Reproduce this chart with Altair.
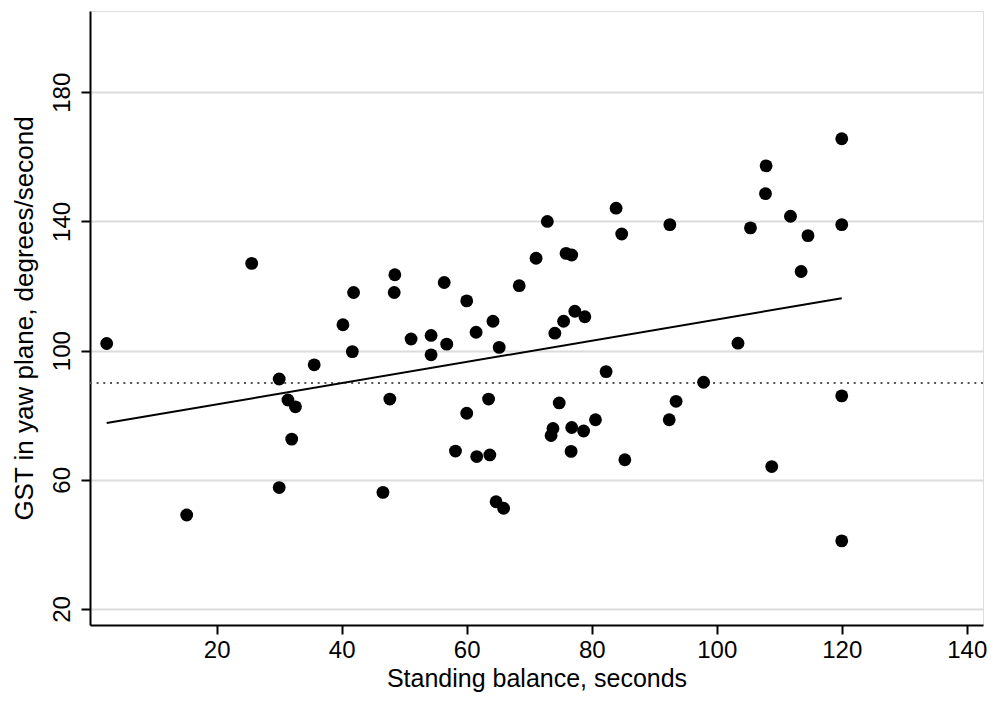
import altair as alt
import pandas as pd

balance_sec = [2.4, 15.2, 25.6, 30.0, 30.0, 31.4, 32.6, 32.0, 35.6, 40.2,
               41.7, 41.9, 46.6, 47.7, 48.5, 48.4, 51.1, 54.3, 54.3, 56.4,
               56.8, 58.2, 60.0, 60.0, 61.5, 61.6, 63.5, 63.7, 64.2, 64.7,
               65.2, 65.9, 68.4, 71.1, 72.9, 73.5, 73.8, 74.1, 74.8, 75.5,
               75.9, 76.8, 76.7, 76.8, 77.3, 78.7, 78.9, 80.6, 82.3, 83.9,
               84.8, 85.3, 92.4, 92.5, 93.5, 97.9, 103.4, 105.4, 107.8, 107.9,
               108.8, 111.8, 113.5, 114.6, 120.0, 120.0, 120.0, 120.0]
gst_yaw = [102.2, 49.1, 127.0, 91.2, 57.6, 84.7, 82.6, 72.6, 95.6, 108.0,
           99.7, 118.0, 56.1, 85.0, 123.5, 118.0, 103.6, 104.7, 98.7, 121.1,
           102.0, 68.9, 115.4, 80.6, 105.7, 67.2, 85.0, 67.7, 109.1, 53.2,
           101.0, 51.2, 120.1, 128.6, 140.0, 73.7, 75.9, 105.4, 83.8, 109.1,
           130.1, 129.6, 68.8, 76.2, 112.2, 75.1, 110.5, 78.6, 93.5, 144.1,
           136.1, 66.2, 78.6, 139.0, 84.3, 90.2, 102.3, 138.0, 148.6, 157.2,
           64.1, 141.6, 124.5, 135.6, 165.6, 139.0, 86.0, 41.1]

fit_x = [2.4, 120.0]
fit_y = [77.6, 116.2]

reference_y = [90]

x_ticks = [20, 40, 60, 80, 100, 120, 140]
y_ticks = [20, 60, 100, 140, 180]

pts = pd.DataFrame({"x": balance_sec, "y": gst_yaw})
fit = pd.DataFrame({"x": fit_x, "y": fit_y})
ref = pd.DataFrame({"y": reference_y})

FONT = "Liberation Sans"

xscale = alt.Scale(domain=[-0.27, 142.6], nice=False, zero=False)
yscale = alt.Scale(domain=[15.05, 205.15], nice=False, zero=False)

xax = alt.Axis(values=x_ticks, grid=False, title="Standing balance, seconds",
               labelFontSize=24, titleFontSize=25, labelFont=FONT, titleFont=FONT,
               labelColor="black", titleColor="black", titleFontWeight="normal",
               domainColor="black", domainWidth=2, tickColor="black", tickWidth=2,
               tickSize=9, labelPadding=4, titlePadding=4)
yax = alt.Axis(values=y_ticks, grid=True, gridColor="#dcdcdc", gridWidth=2,
               title="GST in yaw plane, degrees/second",
               labelFontSize=24, titleFontSize=26, labelFont=FONT, titleFont=FONT,
               labelColor="black", titleColor="black", titleFontWeight="normal",
               labelAngle=-90, labelAlign="center", labelBaseline="bottom",
               domainColor="black", domainWidth=2, tickColor="black", tickWidth=2,
               tickSize=9, labelPadding=7, titlePadding=13)

points = alt.Chart(pts).mark_circle(size=165, color="black", opacity=1).encode(
    x=alt.X("x:Q", scale=xscale, axis=xax),
    y=alt.Y("y:Q", scale=yscale, axis=yax),
)

fit_line = alt.Chart(fit).mark_line(color="black", strokeWidth=2).encode(
    x=alt.X("x:Q", scale=xscale),
    y=alt.Y("y:Q", scale=yscale),
)

ref_line = alt.Chart(ref).mark_rule(color="#555555", strokeWidth=2, strokeDash=[2, 4.7]).encode(
    y=alt.Y("y:Q", scale=yscale),
)

chart = alt.layer(ref_line, fit_line, points).properties(
    width=893, height=614,
    autosize=alt.AutoSizeParams(type="none"),
    padding={"left": 82, "top": 3, "right": 17, "bottom": 69},
).configure_view(stroke=None).configure(background="white")

chart.save("out.html", embed_options={"renderer": "svg", "actions": False})
